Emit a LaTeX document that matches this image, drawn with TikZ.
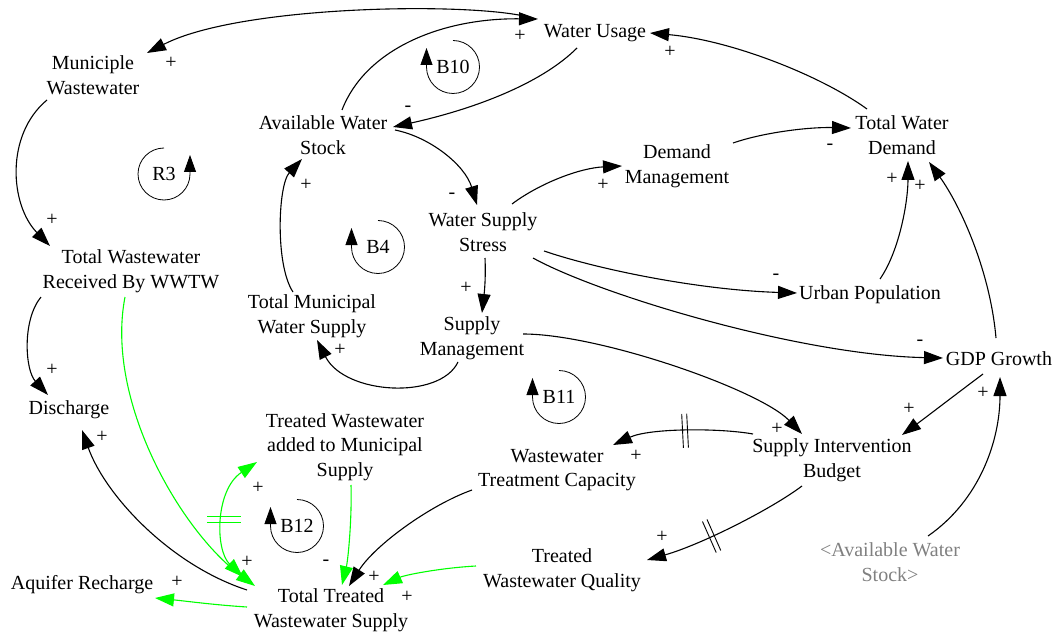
\documentclass[tikz,border=0pt]{standalone}
\usepackage{fontspec}
\IfFontExistsTF{Liberation Serif}{\setmainfont{Liberation Serif}}{\setmainfont{DejaVu Serif}}
\usetikzlibrary{arrows.meta,calc,decorations.markings}
\definecolor{lgreen}{RGB}{0,255,0}
\definecolor{ghost}{RGB}{128,128,128}
\newcommand\varfont{\rmfamily\fontsize{20}{24.5}\selectfont}
\tikzset{
  >={Triangle[length=19pt,width=13pt]},
  var/.style={align=center, inner sep=1pt, font=\varfont},
  shadowvar/.style={var, text=ghost},
  sgn/.style={inner sep=0pt, font=\varfont},
  link/.style={line width=1.1pt, ->},
  glink/.style={line width=1.1pt, ->, color=lgreen},
  looparc/.style={line width=0.8pt, -{Triangle[length=17pt,width=12pt]}},
  hashline/.style={-, line width=0.9pt},
  delaymark/.style={postaction={decorate, decoration={markings,
      mark=at position #1 with {\draw[hashline]
        (-2.5pt,-17pt) -- (-2.5pt,17pt) (2.5pt,-17pt) -- (2.5pt,17pt);}}}},
}
\begin{document}
\begin{tikzpicture}[x=1pt,y=-1pt]
\useasboundingbox (0,0) rectangle (1060,639);

% ---- variables ----
\node[var] (wu)   at (595,33)  {Water Usage};
\node[var] (mw)   at (93,75)   {Municiple\\Wastewater};
\node[var] (asw)  at (323,135) {Available Water\\Stock};
\node[var] (twd)  at (902,135) {Total Water\\Demand};
\node[var] (dm)   at (677,166) {Demand\\Management};
\node[var] (wss)  at (483,232) {Water Supply\\Stress};
\node[var] (up)   at (870,295) {Urban Population};
\node[var] (gdp)  at (999,359) {GDP Growth};
\node[var] (sm)   at (472,338) {Supply\\Management};
\node[var] (tmws) at (312,316) {Total Municipal\\Water Supply};
\node[var] (twr)  at (131,271) {Total Wastewater\\Received By WWTW};
\node[var] (dis)  at (69,410)  {Discharge};
\node[var] (twam) at (345,447) {Treated Wastewater\\added to Municipal\\Supply};
\node[var] (wtc)  at (557,470) {Wastewater\\Treatment Capacity};
\node[var] (sib)  at (832,460) {Supply Intervention\\Budget};
\node[var] (twq)  at (562,570) {Treated\\Wastewater Quality};
\node[shadowvar] (aws) at (890,562) {<Available Water\\Stock>};
\node[var] (ttws) at (331,610) {Total Treated\\Wastewater Supply};
\node[var] (ar)   at (82,585)  {Aquifer Recharge};

% ---- causal links ----
\draw[link] ($(wu)+(-67,-16)$) .. controls (470,2) and (240,5) .. ($(mw)+(54,-22)$);
\draw[link] ($(asw)+(19,-25)$) .. controls (365,50) and (440,18) .. ($(wu)+(-57,-14)$);
\draw[link] ($(wu)+(-18,15)$) .. controls (540,85) and (470,110) .. ($(asw)+(70,-8)$);
\draw[link] ($(twd)+(-35,-26)$) .. controls (820,75) and (730,40) .. ($(wu)+(55,0)$);
\draw[link] ($(asw)+(72,-5)$) .. controls (430,137) and (465,165) .. ($(wss)+(-6,-27)$);
\draw[link] ($(wss)+(29,-28)$) .. controls (540,183) and (580,168) .. ($(dm)+(-55,0)$);
\draw[link] ($(dm)+(56,-23)$) .. controls (765,132) and (810,127) .. ($(twd)+(-51,-7)$);
\draw[link] ($(up)+(10,-16)$) .. controls (900,250) and (908,200) .. ($(twd)+(6,26)$);
\draw[link] ($(gdp)+(-3,-21)$) .. controls (990,270) and (960,205) .. ($(twd)+(27,27)$);
\draw[link] ($(wss)+(61,19)$) .. controls (600,270) and (700,290) .. ($(up)+(-73,-2)$);
\draw[link] ($(wss)+(50,26)$) .. controls (600,295) and (800,355) .. ($(gdp)+(-56,-1)$);
\draw[link] ($(wss)+(2,26)$) .. controls (486,280) and (484,295) .. ($(sm)+(10,-25)$);
\draw[link] ($(sm)+(51,-4)$) .. controls (600,334) and (760,390) .. ($(sib)+(-30,-26)$);
\draw[link] ($(sm)+(-14,24)$) .. controls (440,400) and (345,395) .. ($(tmws)+(5,24)$);
\draw[link] ($(tmws)+(-19,-24)$) .. controls (275,265) and (278,185) .. ($(asw)+(-21,24)$);
\draw[link] ($(mw)+(-46,25)$) .. controls (5,135) and (10,205) .. ($(twr)+(-81,-25)$);
\draw[link] ($(twr)+(-90,26)$) .. controls (22,320) and (25,370) .. ($(dis)+(-21,-15)$);
\draw[glink] ($(twr)+(-6,26)$) .. controls (105,400) and (180,530) .. ($(ttws)+(-76,-24)$);
% two-way green link with its delay mark
\draw[glink, <->] ($(ttws)+(-88,-33)$) .. controls (215,550) and (215,490) .. ($(twam)+(-88,15)$)
  coordinate[pos=0.5] (gdelay);
\draw[hashline, lgreen] ($(gdelay)+(-17,-3)$) -- ++(34,0) ($(gdelay)+(-17,3)$) -- ++(34,0);
\draw[glink] ($(twam)+(6,38)$) .. controls (352,520) and (348,560) .. ($(ttws)+(11,-25)$);
\draw[link] ($(wtc)+(-85,20)$) .. controls (430,505) and (375,545) .. ($(ttws)+(18,-24)$);
\draw[glink] ($(twq)+(-86,-4)$) .. controls (440,568) and (405,575) .. ($(ttws)+(52,-25)$);
\draw[link] ($(ttws)+(-84,-20)$) .. controls (170,565) and (105,495) .. ($(dis)+(13,20)$);
\draw[glink] ($(ttws)+(-84,-3)$) .. controls (215,605) and (185,601) .. ($(ar)+(73,13)$);
\draw[link, delaymark=0.48] ($(sib)+(-79,-26)$) .. controls (720,428) and (650,428) .. ($(wtc)+(56,-25)$);
\draw[link, delaymark=0.6] ($(sib)+(-30,26)$) .. controls (770,510) and (700,545) .. ($(twq)+(85,-10)$);
\draw[link] ($(gdp)+(-16,15)$) .. controls (955,395) and (925,418) .. ($(sib)+(70,-25)$);
\draw[link] ($(aws)+(38,-26)$) .. controls (980,500) and (1000,440) .. ($(gdp)+(1,18)$);

% ---- link polarities ----
\node[sgn] (p1)  at (171,63)  {+};
\node[sgn] (p2)  at (520,36)  {+};
\node[sgn] (p3)  at (408,109) {-};
\node[sgn] (p4)  at (670,52)  {+};
\node[sgn] (p5)  at (452,196) {-};
\node[sgn] (p6)  at (603,185) {+};
\node[sgn] (p7)  at (830,147) {-};
\node[sgn] (p8)  at (892,179) {+};
\node[sgn] (p9)  at (920,186) {+};
\node[sgn] (p10) at (776,277) {-};
\node[sgn] (p11) at (920,343) {-};
\node[sgn] (p12) at (466,288) {+};
\node[sgn] (p13) at (777,429) {+};
\node[sgn] (p14) at (340,350) {+};
\node[sgn] (p15) at (306,185) {+};
\node[sgn] (p16) at (52,220)  {+};
\node[sgn] (p17) at (52,370)  {+};
\node[sgn] (p18) at (247,562) {+};
\node[sgn] (p19) at (258,488) {+};
\node[sgn] (p20) at (326,563) {-};
\node[sgn] (p21) at (407,597) {+};
\node[sgn] (p22) at (374,577) {+};
\node[sgn] (p23) at (102,437) {+};
\node[sgn] (p24) at (177,582) {+};
\node[sgn] (p25) at (636,456) {+};
\node[sgn] (p26) at (662,537) {+};
\node[sgn] (p27) at (909,409) {+};
\node[sgn] (p28) at (983,393) {+};

% ---- loop identifiers ----
\node[var] (lR3)  at (164,174) {R3};
\draw[looparc] ($(lR3)+(0pt,26pt)$) arc[start angle=90,end angle=360,radius=26pt] -- ++(0pt,19pt);
\node[var] (lB10) at (453,67) {B10};
\draw[looparc] ($(lB10)+(0pt,26.5pt)$) arc[start angle=90,end angle=-180,radius=26.5pt] -- ++(0pt,19pt);
\node[var] (lB4)  at (378,247) {B4};
\draw[looparc] ($(lB4)+(0pt,26.5pt)$) arc[start angle=90,end angle=-180,radius=26.5pt] -- ++(0pt,19pt);
\node[var] (lB11) at (559,397) {B11};
\draw[looparc] ($(lB11)+(0pt,26.5pt)$) arc[start angle=90,end angle=-180,radius=26.5pt] -- ++(0pt,19pt);
\node[var] (lB12) at (297,526) {B12};
\draw[looparc] ($(lB12)+(0pt,26.5pt)$) arc[start angle=90,end angle=-180,radius=26.5pt] -- ++(0pt,19pt);
\end{tikzpicture}
\end{document}
